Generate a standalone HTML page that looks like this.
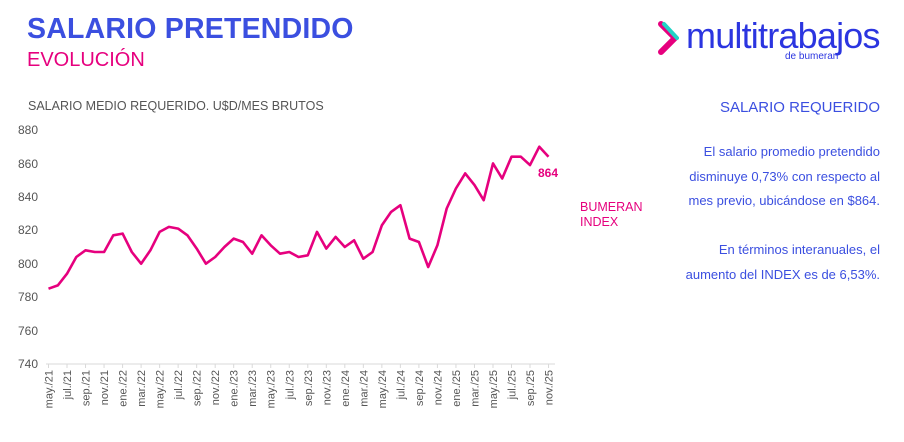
<!DOCTYPE html>
<html><head><meta charset="utf-8"><style>
body{margin:0;width:904px;height:442px;background:#fff;overflow:hidden;font-family:"Liberation Sans",sans-serif;position:relative}
.t1{position:absolute;left:27px;top:13px;font-size:28.5px;font-weight:bold;color:#3b4fe0;letter-spacing:0.2px}
.t2{position:absolute;left:27px;top:49px;font-size:20px;color:#e6007e}
.sub{position:absolute;left:28px;top:99px;font-size:12.5px;color:#555}
.rt{position:absolute;right:24px;text-align:right;color:#3b4fe0;font-size:13px}
</style></head><body>
<div class="t1">SALARIO PRETENDIDO</div>
<div class="t2">EVOLUCIÓN</div>
<div class="sub">SALARIO MEDIO REQUERIDO. U$D/MES BRUTOS</div>
<div style="position:absolute;left:657px;top:20px;width:20px;height:34px">
<svg width="22" height="36"><path d="M4 4 L18 18 L4 32" fill="none" stroke="#e6007e" stroke-width="6" stroke-linecap="round" stroke-linejoin="round"/><path d="M7 4 L20 18" stroke="#22d3c5" stroke-width="4" stroke-linecap="round"/></svg></div>
<div style="position:absolute;left:686px;top:15px;font-size:36px;color:#2b35e0;letter-spacing:-0.8px">multitrabajos</div>
<div style="position:absolute;left:785px;top:51px;font-size:10px;color:#2b35e0">de bumeran</div>
<div class="rt" style="top:99px;font-size:15px">SALARIO REQUERIDO</div>
<div class="rt" style="top:140px;line-height:24.5px">El salario promedio pretendido<br>disminuye 0,73% con respecto al<br>mes previo, ubicándose en $864.<br><br>En términos interanuales, el<br>aumento del INDEX es de 6,53%.</div>
<div style="position:absolute;left:580px;top:200px;font-size:12.5px;color:#e6007e;line-height:15px">BUMERAN<br>INDEX</div>
<svg style="position:absolute;left:0;top:0" width="904" height="442">
<g font-size="12" fill="#555" text-anchor="end" font-family="Liberation Sans">
<text x="38" y="134">880</text><text x="38" y="168">860</text><text x="38" y="201">840</text><text x="38" y="234">820</text><text x="38" y="268">800</text><text x="38" y="301">780</text><text x="38" y="335">760</text><text x="38" y="368">740</text>
</g>
<line x1="46" y1="364" x2="555" y2="364" stroke="#d9d9d9"/>
<g id="lbl" font-size="11" fill="#555" font-family="Liberation Sans" text-anchor="end"></g>
<polyline fill="none" stroke="#e6007e" stroke-width="2.6" stroke-linejoin="round" points="48.5,288.7 57.8,285.4 67,273.7 76.3,257 85.5,250.3 94.8,252 104.1,252 113.3,235.3 122.6,233.6 131.8,252 141.1,263.7 150.4,250.3 159.6,231.9 168.9,226.9 178.1,228.6 187.4,235.3 196.7,248.6 205.9,263.7 215.2,257 224.4,247 233.7,238.6 243,242 252.2,253.7 261.5,235.3 270.7,245.3 280,253.7 289.3,252 298.5,257 307.8,255.3 317,231.9 326.3,248.6 335.6,236.9 344.8,247 354.1,240.3 363.3,258.7 372.6,252 381.9,225.2 391.1,211.9 400.4,205.2 409.6,238.6 418.9,242 428.2,267 437.4,245.3 446.7,208.5 455.9,188.5 465.2,173.4 474.5,185.1 483.7,200.2 493,163.4 502.2,178.5 511.5,156.7 520.8,156.7 530,165.1 539.3,146.7 548.5,156.7"/>
<text x="538" y="177" font-size="12" font-weight="bold" fill="#e6007e" font-family="Liberation Sans">864</text>
</svg>
<script>
var m=["may./21","jul./21","sep./21","nov./21","ene./22","mar./22","may./22","jul./22","sep./22","nov./22","ene./23","mar./23","may./23","jul./23","sep./23","nov./23","ene./24","mar./24","may./24","jul./24","sep./24","nov./24","ene./25","mar./25","may./25","jul./25","sep./25","nov./25"];
var g=document.getElementById("lbl"),s="";
m.forEach(function(t,i){var x=48.5+i*2*9.26;s+='<line x1="'+x+'" y1="364" x2="'+x+'" y2="368" stroke="#d9d9d9"/><text transform="translate('+(x+4)+',370) rotate(-90)">'+t+'</text>';});
g.innerHTML=s;
</script>
</body></html>
